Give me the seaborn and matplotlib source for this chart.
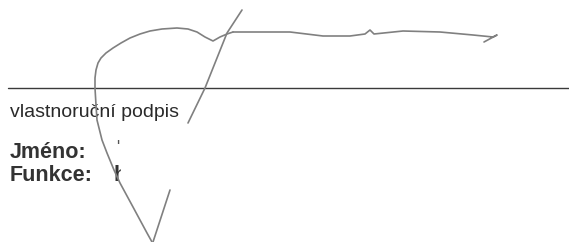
import matplotlib
matplotlib.use("Agg")
import matplotlib.pyplot as plt
import pandas as pd
import seaborn as sns

# page is 569 x 242 px, coordinates below are in pixels from top-left
rule_x = [8, 569]
rule_y = [88, 88]

# signature strokes
loop_x = [152, 147, 133, 120, 114, 107, 102, 97, 96, 95, 95, 96, 98, 101, 106, 113, 121, 130, 140, 150, 162, 177, 188, 197, 205, 213, 220, 227, 233]
loop_y = [242, 233, 207, 183, 170, 153, 140, 120, 105, 88, 78, 70, 63, 58, 53, 48, 43, 38, 34, 31, 29, 28, 29, 32, 37, 41, 37, 34, 32]
tail_x = [233, 263, 290, 323, 350, 365, 370, 374, 403, 440, 473, 493, 497, 484]
tail_y = [32, 32, 32, 36, 36, 34, 30, 34, 31, 32, 35, 37, 35, 42]
slash_x = [188, 205, 227, 242]
slash_y = [123, 88, 33, 10]
v_x = [153, 170]
v_y = [242, 190]

caption = "vlastnoruční podpis"
labels = ["Jméno:", "Funkce:"]
label_y = [158, 181]

strokes = pd.concat([
    pd.DataFrame({"x": loop_x, "y": loop_y, "stroke": "loop"}),
    pd.DataFrame({"x": tail_x, "y": tail_y, "stroke": "tail"}),
    pd.DataFrame({"x": slash_x, "y": slash_y, "stroke": "slash"}),
    pd.DataFrame({"x": v_x, "y": v_y, "stroke": "v"}),
])

sns.set_style("white")
plt.rcParams["font.family"] = ["Liberation Sans", "DejaVu Sans"]

fig = plt.figure(figsize=(5.69, 2.42), dpi=100)
ax = fig.add_axes([0, 0, 1, 1])

sns.lineplot(x=rule_x, y=rule_y, ax=ax, color="#3a3a3a", linewidth=1.0)
sns.lineplot(data=strokes, x="x", y="y", units="stroke", estimator=None, sort=False,
             ax=ax, color="#808080", linewidth=1.2, zorder=6)

ax.text(10, 117, caption, fontsize=14, color="#2a2a2a", va="baseline")
for lab, yy in zip(labels, label_y):
    ax.text(10, yy, lab, fontsize=15.5, fontweight="bold", color="#333333", va="baseline")

# remnants of the redacted values
ax.text(116, 152, "'", fontsize=12, color="#555555", va="baseline")
ax.text(114, label_y[1], "h", fontsize=15.5, fontweight="bold", color="#333333", va="baseline")
ax.add_patch(plt.Rectangle((121, 160), 20, 26, color="white", zorder=5))

ax.set_xlim(0, 569)
ax.set_ylim(242, 0)
ax.axis("off")
fig.savefig("out.png", dpi=100, facecolor="white")
